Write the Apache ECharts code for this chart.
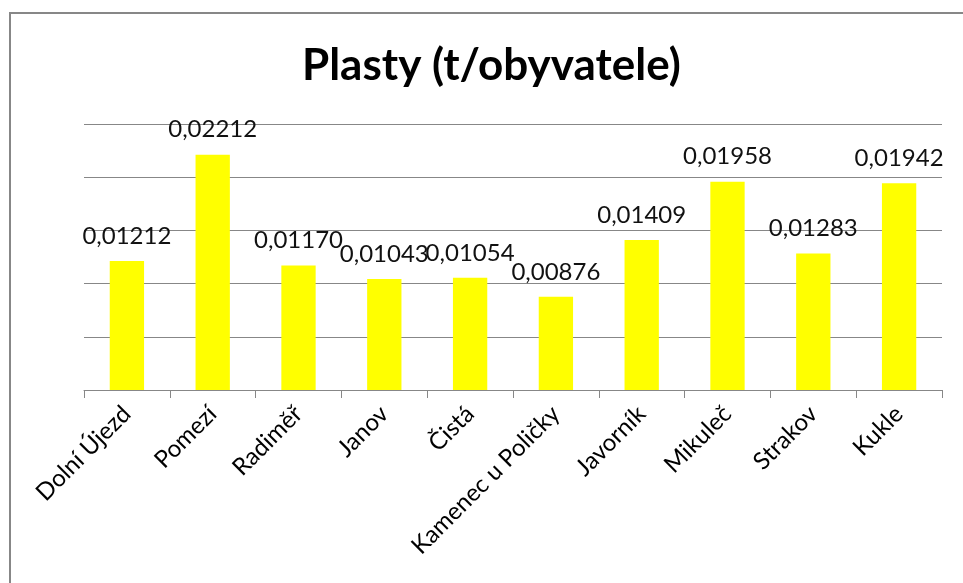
<!DOCTYPE html>
<html>
<head>
<meta charset="utf-8">
<script src="https://cdn.jsdelivr.net/npm/echarts@6/dist/echarts.min.js"></script>
<style>
html,body{margin:0;padding:0;background:#fff;}
#chart{width:963px;height:583px;}
</style>
</head>
<body>
<div id="chart"></div>
<script>
var categories = ['Dolní Újezd','Pomezí','Radiměř','Janov','Čistá','Kamenec u Poličky','Javorník','Mikuleč','Strakov','Kukle'];
var values = [0.01212, 0.02212, 0.01170, 0.01043, 0.01054, 0.00876, 0.01409, 0.01958, 0.01283, 0.01942];
var titleText = 'Plasty (t/obyvatele)';

var chart = echarts.init(document.getElementById('chart'), null, {renderer:'canvas'});
chart.setOption({
  animation: false,
  backgroundColor: '#fff',
  title: {
    text: titleText,
    left: 297,
    top: 39,
    textStyle: {fontFamily: 'Lato', fontWeight: 'bold', fontSize: 44, color: '#000'}
  },
  graphic: [{
    type: 'rect',
    shape: {x: 10, y: 13, width: 1000, height: 700},
    style: {fill: null, stroke: '#878787', lineWidth: 2},
    silent: true
  }],
  grid: {left: 84, right: 21, top: 124, bottom: 193, containLabel: false},
  xAxis: {
    type: 'category',
    data: categories,
    axisLine: {lineStyle: {color: '#878787', width: 1}},
    axisTick: {show: true, length: 8, lineStyle: {color: '#878787'}},
    axisLabel: {rotate: 45, margin: 20, interval: 0, fontFamily: 'Lato', fontSize: 24, color: '#000'}
  },
  yAxis: {
    type: 'value',
    min: 0, max: 0.025, interval: 0.005,
    axisLine: {show: false},
    axisTick: {show: false},
    axisLabel: {show: false},
    splitLine: {lineStyle: {color: '#878787', width: 1}}
  },
  series: [{
    type: 'bar',
    data: values,
    barCategoryGap: '60%',
    itemStyle: {color: '#FFFF00'},
    label: {
      show: true,
      position: 'top',
      distance: 13,
      fontFamily: 'Lato',
      fontSize: 24,
      color: '#111',
      formatter: function(p){ return p.value.toFixed(5).replace('.', ','); }
    }
  }]
});
</script>
</body>
</html>
